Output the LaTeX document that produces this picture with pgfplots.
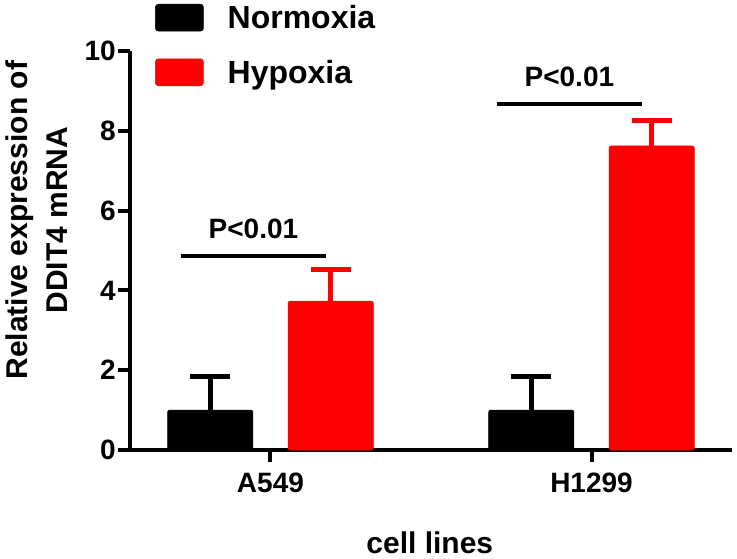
\documentclass[border=0pt]{standalone}
\usepackage{fontspec}
\setmainfont{Liberation Sans}
\usepackage{pgfplots}
\pgfplotsset{compat=1.18}
\usetikzlibrary{calc}
\definecolor{hred}{RGB}{255,0,0}
\begin{document}
\begin{tikzpicture}
\begin{axis}[
  name=ax, at={(0,0)}, anchor=south west,
  scale only axis, width=602bp, height=399bp,
  xmin=-0.4375, xmax=1.4375, ymin=0, ymax=10,
  axis x line*=bottom, axis y line*=left,
  axis line style={line width=4.5bp, -},
  tick style={line width=4bp, black},
  tick align=outside, major tick length=12bp,
  xtick={0,1}, xticklabels={A549,H1299},
  ytick={0,2,4,6,8,10},
  /pgf/number format/assume math mode=true,
  ticklabel style={font=\bfseries\fontsize{28bp}{32bp}\selectfont},
  yticklabel style={inner sep=2bp},
  xticklabel style={inner sep=2bp, yshift=-9bp},
  ylabel={Relative expression of\\DDIT4 mRNA},
  ylabel style={align=center, font=\bfseries\fontsize{30bp}{40bp}\selectfont,
    at={(axis description cs:-0.1545,0.576)}, anchor=center, rotate=0},
  xlabel={cell lines},
  xlabel style={font=\bfseries\fontsize{30bp}{34bp}\selectfont,
    at={(axis description cs:0.498,-0.233)}, anchor=center},
  clip=false,
  legend style={at={(rel axis cs:0.0415,1.12)}, anchor=north west, draw=none, fill=none,
    font=\bfseries\fontsize{32bp}{32bp}\selectfont, row sep=26bp, inner sep=0pt},
  legend cell align=left,
]
\addplot[ybar, bar width=0.2656, bar shift=0, fill=black, draw=black, line width=0.5bp, rounded corners=2bp,
  error bars/.cd, y dir=plus, y explicit,
  error bar style={line width=5bp, black, sharp corners},
  error mark options={rotate=90, mark size=20bp, line width=5bp, black},
  /pgfplots/legend image code/.code={\fill[black, rounded corners=3bp] (0bp,-13.5bp) rectangle (48bp,13.5bp); \path (70bp,0bp);}]
  coordinates {(-0.1875,1.0) +- (0,0.83) (0.8125,1.0) +- (0,0.83)};
\addlegendentry{Normoxia}
\addplot[ybar, bar width=0.2656, bar shift=0, fill=hred, draw=hred, line width=0.5bp, rounded corners=2bp,
  error bars/.cd, y dir=plus, y explicit,
  error bar style={line width=5bp, hred, sharp corners},
  error mark options={rotate=90, mark size=20bp, line width=5bp, hred},
  /pgfplots/legend image code/.code={\fill[hred, rounded corners=3bp] (0bp,-13.5bp) rectangle (48bp,13.5bp); \path (70bp,0bp);}]
  coordinates {(0.1875,3.73) +- (0,0.80) (1.1875,7.62) +- (0,0.65)};
\addlegendentry{Hypoxia}
\addplot[black, line width=4bp, forget plot] coordinates {(-0.28,4.85) (0.173,4.85)};
\addplot[black, line width=4bp, forget plot] coordinates {(0.705,8.68) (1.158,8.68)};
\node[font=\bfseries\fontsize{28bp}{32bp}\selectfont] at (axis cs:-0.053,5.53) {P<0.01};
\node[font=\bfseries\fontsize{28bp}{32bp}\selectfont] at (axis cs:0.931,9.34) {P<0.01};
\end{axis}
\pgfresetboundingbox
\useasboundingbox (ax.south west) ++(-130bp,-109bp) rectangle ++(737bp,559bp);
\end{tikzpicture}
\end{document}
